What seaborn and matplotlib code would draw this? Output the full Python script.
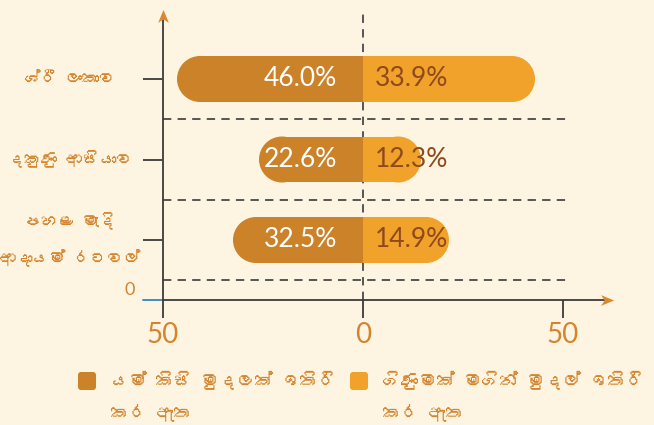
import matplotlib
matplotlib.use("Agg")
import matplotlib.pyplot as plt
import matplotlib.transforms as mtransforms
from matplotlib import font_manager
from matplotlib.patches import Ellipse, FancyBboxPatch
from matplotlib.path import Path
import seaborn as sns
import pandas as pd

# ---------------- data ----------------
categories = ["ශ්රී ලංකාව", "දකුණු ආසියාව", "පහළ මැදි\nආදායම් රටවල්"]
series_names = ["යම් කිසි මුදලක් ඉතිරි\nකර ඇත", "ගිණුමක් මගින් මුදල් ඉතිරි\nකර ඇත"]
any_savings = [46.0, 22.6, 32.5]          # label values (left)
account_savings = [33.9, 12.3, 14.9]      # label values (right)
bar_len_left = [46.5, 26.0, 32.5]         # visible bar lengths
bar_len_right = [43.0, 14.5, 21.5]
x_ticks = [-50, 0, 50]
x_tick_labels = ["50", "0", "50"]
y_zero_label = "0"

# ---------------- style ----------------
BG = "#FDF5E1"
C_LEFT = "#CB8229"
C_RIGHT = "#F0A22A"
C_TXT = "#D4842E"
C_RLAB = "#8F4A1C"
C_AX = "#3A3A3A"
C_ARROW = "#D88A30"
C_BLUE = "#2E86C1"

sns.set_style("white")
plt.rcParams["lines.scale_dashes"] = False


def find_sinhala():
    try:
        from fontTools.ttLib import TTFont
    except Exception:
        return None
    seen = set()
    for f in font_manager.fontManager.ttflist:
        if f.fname in seen:
            continue
        seen.add(f.fname)
        try:
            tt = TTFont(f.fname, fontNumber=0, lazy=True)
            cmap = tt.getBestCmap()
            if cmap and 0x0DC1 in cmap and 0x0D9A in cmap:
                return f.name
        except Exception:
            pass
    return None


sin = find_sinhala()
SIN_FAM = ([sin] if sin else []) + ["Noto Sans", "DejaVu Sans"]
NUM_FAM = ["Lato", "DejaVu Sans"]
plt.rcParams["font.family"] = NUM_FAM

fig = plt.figure(figsize=(6.54, 4.25), dpi=100, facecolor=BG)
W, H = 654, 425
L_PX, R_PX, T_PX, B_PX = 143, 612, 12, 300
ax = fig.add_axes([L_PX / W, (H - B_PX) / H, (R_PX - L_PX) / W, (B_PX - T_PX) / H])
ax.set_facecolor(BG)
ax.patch.set_alpha(0)

XMIN, XMAX = -55, 62.25
ROW_PX = 80.5
Y_TOP = (T_PX - 79) / ROW_PX
Y_BOT = (B_PX - 79) / ROW_PX

R_UNITS = 23 / 4.0           # cap radius in x units
BAR_H = 46 / ROW_PX          # bar thickness in y units

pos = list(range(len(categories)))
df = pd.DataFrame({
    "cat": categories,
    "left": [-(v - R_UNITS) for v in bar_len_left],
    "right": [(v - R_UNITS) for v in bar_len_right],
})

sns.barplot(data=df, x="left", y="cat", orient="h", color=C_LEFT, saturation=1,
            width=BAR_H, linewidth=0, ax=ax, zorder=3)
sns.barplot(data=df, x="right", y="cat", orient="h", color=C_RIGHT, saturation=1,
            width=BAR_H, linewidth=0, ax=ax, zorder=3)

# rounded caps
for i, (lv, rv) in enumerate(zip(bar_len_left, bar_len_right)):
    ax.add_patch(Ellipse((-(lv - R_UNITS), i), 2 * R_UNITS, BAR_H, facecolor=C_LEFT,
                         edgecolor="none", zorder=3))
    ax.add_patch(Ellipse((rv - R_UNITS, i), 2 * R_UNITS, BAR_H, facecolor=C_RIGHT,
                         edgecolor="none", zorder=3))

# value labels
for i, (a, b) in enumerate(zip(any_savings, account_savings)):
    ax.text(-6.5, i, f"{a:.1f}%", ha="right", va="center", color="white",
            fontsize=19, family=NUM_FAM, zorder=5)
    ax.text(3.0, i, f"{b:.1f}%", ha="left", va="center", color=C_RLAB,
            fontsize=19, family=NUM_FAM, zorder=5)

# dashed grid
for yy in [0.5, 1.5, 2.5]:
    ax.plot([-50, 51.75], [yy, yy], color="#555555", lw=1.4, dashes=(6, 4.5),
            zorder=1, clip_on=False)
ax.plot([0, 0], [Y_BOT, Y_TOP], color="#555555", lw=1.4, dashes=(6, 4.5),
        zorder=1, clip_on=False)

# axes lines
ax.plot([XMIN, -50], [Y_BOT, Y_BOT], color=C_BLUE, lw=1.3, clip_on=False, zorder=4)
ax.plot([-50, XMAX - 1], [Y_BOT, Y_BOT], color=C_AX, lw=1.3, clip_on=False, zorder=4)
ax.plot([-50, -50], [Y_BOT, Y_TOP + 0.1], color=C_AX, lw=1.3, clip_on=False, zorder=4)

arrow = Path([(0, 1), (-0.7, -0.7), (0, -0.25), (0.7, -0.7), (0, 1)],
             [Path.MOVETO, Path.LINETO, Path.LINETO, Path.LINETO, Path.CLOSEPOLY])
ax.plot([-50], [Y_TOP + 0.06], marker=arrow, markersize=11, color=C_ARROW,
        markeredgewidth=0, clip_on=False, zorder=6)
arrow_r = arrow.transformed(mtransforms.Affine2D().rotate_deg(-90))
ax.plot([XMAX - 1.4], [Y_BOT], marker=arrow_r, markersize=11, color=C_ARROW,
        markeredgewidth=0, clip_on=False, zorder=6)

# limits and ticks
ax.set_xlim(XMIN, XMAX)
ax.set_ylim(Y_BOT, Y_TOP)
for s in ax.spines.values():
    s.set_visible(False)
ax.set_xlabel("")
ax.set_ylabel("")
ax.set_xticks(x_ticks)
ax.set_xticklabels(x_tick_labels, fontsize=20, color=C_TXT, family=NUM_FAM)
ax.tick_params(axis="x", bottom=True, length=13, width=1.3, color=C_AX, pad=3,
               direction="out")
ax.xaxis.get_major_ticks()[0].tick1line.set_color(C_BLUE)
ax.set_yticks(pos)
ax.set_yticklabels([""] * len(pos))
ax.tick_params(axis="y", left=True, length=13.7, width=1.3, color=C_AX,
               direction="in")

# category labels
for i, lab in enumerate(categories):
    lines = lab.split("\n")
    n = len(lines)
    for k, ln in enumerate(lines):
        off = (k - (n - 1) / 2) * 37 / ROW_PX
        ax.text((70 - L_PX) / 4 + XMIN, i + off, ln, ha="center", va="center",
                color=C_TXT, fontsize=12, family=SIN_FAM, clip_on=False)

ax.text((130 - L_PX) / 4 + XMIN, (290 - 79) / ROW_PX, y_zero_label, ha="center",
        va="center", color=C_TXT, fontsize=13, family=NUM_FAM, clip_on=False)

# legend (manual)
px = mtransforms.IdentityTransform()
leg_x = [78, 350]
for j, (name, col) in enumerate(zip(series_names, [C_LEFT, C_RIGHT])):
    sq = FancyBboxPatch((leg_x[j], H - 390), 18, 18,
                        boxstyle="round,pad=0,rounding_size=3", transform=px,
                        facecolor=col, edgecolor="none")
    fig.add_artist(sq)
    for k, ln in enumerate(name.split("\n")):
        fig.text((leg_x[j] + 33) / W, (H - (380 + 32 * k)) / H, ln, ha="left",
                 va="center", color=C_TXT, fontsize=13, family=SIN_FAM)

fig.savefig("out.png", dpi=100, facecolor=BG)
